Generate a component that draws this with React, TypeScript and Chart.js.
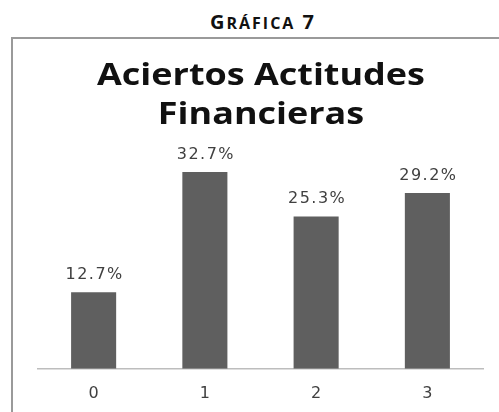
import React, { useEffect, useRef } from "react";
import { Chart, registerables } from "chart.js";

Chart.register(...registerables);

const categories = ["0", "1", "2", "3"];
const aciertos = [12.7, 32.7, 25.3, 29.2];
const chartTitle = ["Aciertos Actitudes", "Financieras"];
const headingFirst = "G";
const headingRest = "RÁFICA";
const headingNumber = "7";

const valueLabels = {
  id: "valueLabels",
  afterDatasetsDraw(chart: any) {
    const ctx = chart.ctx;
    const meta = chart.getDatasetMeta(0);
    ctx.save();
    ctx.font = '16px "DejaVu Sans"';
    (ctx as any).letterSpacing = "1.5px";
    ctx.fillStyle = "#404040";
    ctx.textAlign = "center";
    ctx.textBaseline = "alphabetic";
    meta.data.forEach((bar: any, i: number) => {
      const v = chart.data.datasets[0].data[i];
      ctx.fillText(v.toFixed(1) + "%", bar.x + 1, bar.y - 13);
    });
    ctx.restore();
  },
};

const wideTitle = {
  id: "wideTitle",
  afterDraw(chart: any) {
    const ctx = chart.ctx;
    const cx = chart.width / 2;
    const baselines = [46, 85];
    ctx.save();
    ctx.font = 'bold 31px "Open Sans"';
    ctx.fillStyle = "#111";
    ctx.textAlign = "center";
    ctx.textBaseline = "alphabetic";
    chartTitle.forEach((line, i) => {
      ctx.save();
      ctx.translate(cx, baselines[i]);
      ctx.scale(1.16, 1);
      ctx.fillText(line, 0, 0);
      ctx.restore();
    });
    ctx.restore();
  },
};

export default function App() {
  const ref = useRef<HTMLCanvasElement>(null);
  useEffect(() => {
    if (!ref.current) return;
    const chart = new Chart(ref.current, {
      type: "bar",
      data: {
        labels: categories,
        datasets: [
          {
            data: aciertos,
            backgroundColor: "#5f5f5f",
            borderWidth: 0,
            categoryPercentage: 1,
            barPercentage: 0.405,
          },
        ],
      },
      options: {
        responsive: false,
        animation: false,
        layout: { padding: { left: 25, right: 26, top: 95, bottom: 8 } },
        plugins: {
          legend: { display: false },
          tooltip: { enabled: false },
          title: { display: false },
        },
        scales: {
          x: {
            grid: { display: false, drawTicks: false },
            border: { display: true, color: "#bdbdbd", width: 1.5 },
            ticks: {
              color: "#404040",
              font: { family: "DejaVu Sans", size: 16 },
              padding: 15,
            },
          },
          y: {
            display: false,
            min: 0,
            max: 39,
          },
        },
      },
      plugins: [valueLabels, wideTitle],
    });
    return () => chart.destroy();
  }, []);

  return (
    <div
      style={{
        position: "absolute",
        left: 0,
        top: 0,
        width: 499,
        height: 412,
        overflow: "hidden",
        background: "#fff",
      }}
    >
      <div
        style={{
          position: "absolute",
          left: 0,
          top: 11,
          width: 526,
          textAlign: "center",
          fontFamily: "'Open Sans', sans-serif",
          fontWeight: "bold",
          lineHeight: "22px",
          letterSpacing: "2px",
          color: "#111",
          whiteSpace: "nowrap",
        }}
      >
        <span style={{ fontSize: 20 }}>{headingFirst}</span>
        <span style={{ fontSize: 16 }}>{headingRest}</span>
        <span style={{ fontSize: 20 }}> {headingNumber}</span>
      </div>
      <div
        style={{
          position: "absolute",
          left: 11,
          top: 37,
          width: 540,
          height: 420,
          borderLeft: "2px solid #9a9a9a",
          borderTop: "2px solid #9a9a9a",
          boxSizing: "border-box",
        }}
      />
      <div style={{ position: "absolute", left: 13, top: 39 }}>
        <canvas ref={ref} width={496} height={387} style={{ display: "block" }} />
      </div>
    </div>
  );
}
